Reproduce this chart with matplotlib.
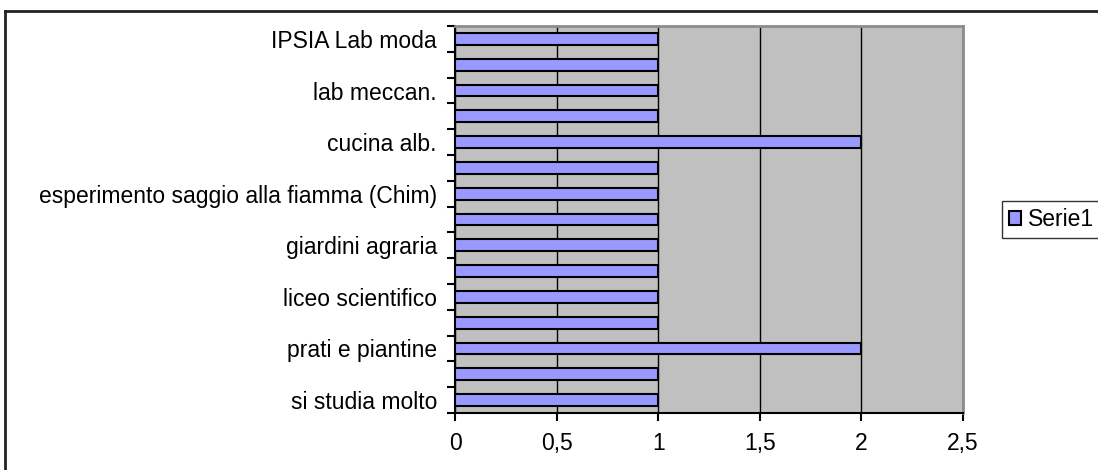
import matplotlib
matplotlib.use("Agg")
import matplotlib.pyplot as plt
from matplotlib.lines import Line2D
import numpy as np

# categories from top to bottom; Excel only prints every other label
categories = [
    "IPSIA Lab moda", "", "lab meccan.", "", "cucina alb.", "",
    "esperimento saggio alla fiamma (Chim)", "", "giardini agraria", "",
    "liceo scientifico", "", "prati e piantine", "", "si studia molto",
]
values = [1, 1, 1, 1, 2, 1, 1, 1, 1, 1, 1, 1, 2, 1, 1]
series_name = "Serie1"
x_ticks = [0, 0.5, 1, 1.5, 2, 2.5]
x_labels = ["0", "0,5", "1", "1,5", "2", "2,5"]

plt.rcParams["font.family"] = ["Liberation Sans", "DejaVu Sans"]
FS = 16.5

fig = plt.figure(figsize=(10.98, 4.70), dpi=100)
ax = fig.add_axes([455 / 1098, 1 - 413 / 470, (963 - 455) / 1098, (413 - 26) / 470])

pos = np.arange(len(categories))
ax.barh(pos, values, height=0.45, color="#9999FF", edgecolor="black",
        linewidth=1.5, label=series_name, zorder=3)

ax.set_facecolor("#C0C0C0")
ax.set_xlim(0, 2.5)
ax.set_ylim(len(categories) - 0.5, -0.5)

ax.set_xticks(x_ticks)
ax.set_xticklabels(x_labels, fontsize=FS)
ax.set_yticks(pos)
ax.set_yticklabels(categories, fontsize=FS)
ax.set_yticks(np.arange(len(categories) + 1) - 0.5, minor=True)

ax.tick_params(axis="y", which="major", length=0, pad=13)
ax.tick_params(axis="y", which="minor", length=6, width=1.5, direction="out")
ax.tick_params(axis="x", which="major", length=6, width=1.5, direction="out", pad=8)

ax.grid(axis="x", color="black", linewidth=1, zorder=1)
ax.set_axisbelow(True)

ax.spines["left"].set_color("black")
ax.spines["bottom"].set_color("black")
ax.spines["left"].set_linewidth(1.5)
ax.spines["bottom"].set_linewidth(1.5)
for side in ("top", "right"):
    ax.spines[side].set_color("#8C8C8C")
    ax.spines[side].set_linewidth(2)

leg = ax.legend(loc="center left", bbox_to_anchor=(1002 / 1098, 1 - 219.5 / 470),
                bbox_transform=fig.transFigure, fontsize=FS, frameon=True,
                fancybox=False, handlelength=0.55, handleheight=0.55,
                handletextpad=0.3, borderpad=0.3, borderaxespad=0)
leg.get_frame().set_edgecolor("black")
leg.get_frame().set_linewidth(1)

# chart area border (runs off the right and bottom edges)
fig.add_artist(Line2D([4.5 / 1098, 4.5 / 1098], [-0.1, 1 - 10.5 / 470],
                      transform=fig.transFigure, color="#222222", linewidth=2))
fig.add_artist(Line2D([4.5 / 1098, 1.1], [1 - 10.5 / 470, 1 - 10.5 / 470],
                      transform=fig.transFigure, color="#222222", linewidth=2))

fig.savefig("out.png", dpi=100)
